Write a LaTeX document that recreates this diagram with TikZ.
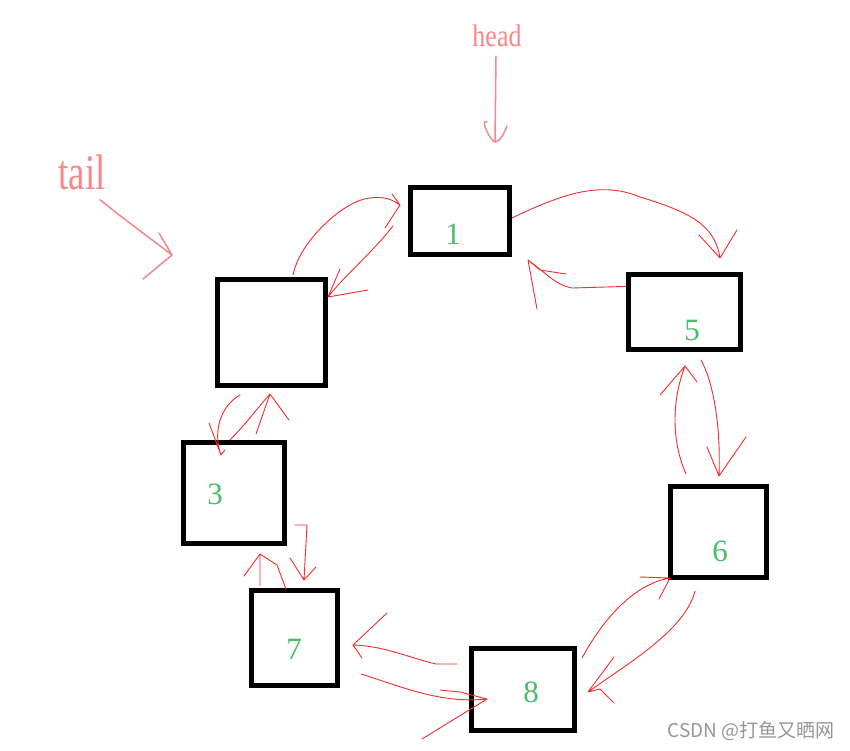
\documentclass[tikz,border=0pt]{standalone}
\usepackage{graphicx}
\usepackage{fontspec}
\setmainfont{Liberation Serif}
\newfontfamily\cjkfont{Noto Sans CJK SC}
\usetikzlibrary{calc}
\definecolor{inkred}{RGB}{242,45,45}
\definecolor{pinkred}{RGB}{248,135,135}
\definecolor{digitgreen}{RGB}{72,190,105}
\definecolor{wmgray}{RGB}{150,150,150}
\begin{document}
\begin{tikzpicture}[x=1pt,y=-1pt,
  box/.style={draw=black,line width=5pt,inner sep=0pt,rectangle},
  digit/.style={text=digitgreen,font=\fontsize{31}{31}\selectfont,inner sep=0pt},
  link/.style={draw=inkred,line width=0.9pt,line join=round,line cap=round},
  pinkarrow/.style={draw=pinkred,line width=1.5pt,line join=round,line cap=round},
  pinklabel/.style={text=pinkred,inner sep=0pt}]
\fill[white] (0,0) rectangle (850,750);
\useasboundingbox (0,0) rectangle (850,750);

% boxes
\node[box,minimum width=99pt,minimum height=67pt]  (b1) at (460,221) {};
\node[box,minimum width=108pt,minimum height=106pt] (b2) at (271.5,332.5) {};
\node[box,minimum width=112pt,minimum height=75pt] (b5) at (684.5,312) {};
\node[box,minimum width=96pt,minimum height=91pt]  (b6) at (718.5,532) {};
\node[box,minimum width=101pt,minimum height=101pt] (b3) at (234,493) {};
\node[box,minimum width=86pt,minimum height=95pt]  (b7) at (294.5,638) {};
\node[box,minimum width=103pt,minimum height=82pt] (b8) at (523,689.5) {};

% digits
\node[digit] (n1) at (453,234) {1};
\node[digit] (n5) at (692,330) {5};
\node[digit] (n6) at (720,551) {6};
\node[digit] (n3) at (215,494) {3};
\node[digit] (n7) at (294,649) {7};
\node[digit] (n8) at (531,692) {8};

% labels
\node[pinklabel] (headtxt) at (497,36) {\scalebox{1}[1.2]{\fontsize{26}{26}\selectfont head}};
\node[pinklabel] (tailtxt) at (82,172) {\scalebox{1}[1.35]{\fontsize{37}{37}\selectfont tail}};
\node[text=wmgray,inner sep=0pt,font=\cjkfont\fontsize{19}{19}\selectfont] (wm) at (751,731) {CSDN @打鱼又晒网};

% free ends (arrow tips)
\coordinate (th) at (495,142);
\coordinate (tt) at (172,255);
\coordinate (t3) at (720,258);
\coordinate (t4) at (528,260);
\coordinate (t5) at (719,476);
\coordinate (t6) at (685,366);
\coordinate (t7) at (588,692);
\coordinate (t8) at (670,578);
\coordinate (t9) at (353,645);
\coordinate (t10) at (487,699);
\coordinate (t11) at (304,580);
\coordinate (t12) at (260,554);
\coordinate (t13) at (221,455);
\coordinate (t14) at (270,394);
\coordinate (t15) at (400,205);
\coordinate (t16) at (328,297);

% head and tail pointers
\draw[pinkarrow] ($(headtxt.south)+(-1,9)$) -- (th)
  (th) +(-8,-20) .. controls +(-8,-4) and +(-4,0) .. (th)
  .. controls +(5,0) and +(-2,6) .. +(12,-16);
\draw[pinkarrow] ($(tailtxt.south)+(18,10)$) .. controls (125,220) and (150,238) .. (tt)
  (tt) +(-13,-22) -- (tt) -- +(-29,24);

% 1 -> 5
\draw[link] ($(b1.east)+(0,-3)$) .. controls (560,195) and (600,180) .. (640,197)
  .. controls (690,212) and (715,225) .. (t3)
  (t3) +(-21,-23) -- (t3) -- +(17,-28);
% 5 -> 1
\draw[link] ($(b5.north west)!0.18!(b5.south west)$) -- (572,288)
  .. controls (555,285) and (545,272) .. (t4)
  (t4) +(9,49) -- (t4) -- +(12,10) -- +(38,14);
% 5 -> 6
\draw[link] ($(b5.south)+(16.5,8)$) .. controls (712,380) and (721,420) .. (t5)
  (t5) +(-12,-29) -- (t5) -- +(27,-39);
% 6 -> 5
\draw[link] ($(b6.north)+(-32.5,-10)$) .. controls (671,440) and (672,400) .. (t6)
  (t6) +(-25,29) -- (t6) -- +(12,16);
% 6 -> 8
\draw[link] ($(b6.south)+(-23.5,11)$) .. controls (685,630) and (630,662) .. (t7)
  (t7) +(26,-35) -- (t7) -- +(12,-3) -- +(26,11);
% 8 -> 6
\draw[link] ($(b8.north east)+(5,12)$) .. controls (600,625) and (630,585) .. (t8)
  (t8) +(-30,-1) -- (t8) -- +(-11,21);
% 8 -> 7
\draw[link] ($(b8.west)+(-12,-25.5)$) -- (436,664) .. controls (410,658) and (385,646) .. (t9)
  (t9) +(34,-32) -- (t9) -- +(9,13);
% 7 -> 8
\draw[link] ($(b7.east)+(21,36)$) .. controls (400,686) and (440,704) .. (t10)
  (t10) +(-47,-9) -- +(-27,-7) -- (t10) -- +(-65,40);
% 3 -> 7
\draw[link] ($(b3.east)+(8,32)$) -- (307,525) -- (t11)
  (t11) +(-14,-22) -- (t11) -- +(12,-13);
% 7 -> 3
\draw[link] ($(b7.north)+(-34.5,-2)$) -- (t12)
  (t12) +(-16,22) -- (t12) -- +(17,11) -- +(26,35);
% 2 -> 3
\draw[link] ($(b2.south)+(-31.5,7)$) .. controls (222,405) and (212,430) .. (t13)
  (t13) +(-12,-32) -- (t13) -- +(4,-5);
% 3 -> 2
\draw[link] ($(b3.north)+(-4,0)$) .. controls (245,425) and (260,405) .. (t14)
  (t14) +(-14,40) -- (t14) -- +(19,26);
% 2 -> 1
\draw[link] ($(b2.north)+(21.5,-2)$) .. controls (300,240) and (345,200) .. (370,198)
  .. controls (385,196) and (393,200) .. (t15)
  (t15) +(-8,-11) -- (t15) -- +(-15,23);
% 1 -> 2
\draw[link] ($(b1.west)+(-15,5)$) .. controls (370,255) and (345,275) .. (t16)
  (t16) +(12,-28) -- (t16) -- +(40,-7);
\end{tikzpicture}
\end{document}
